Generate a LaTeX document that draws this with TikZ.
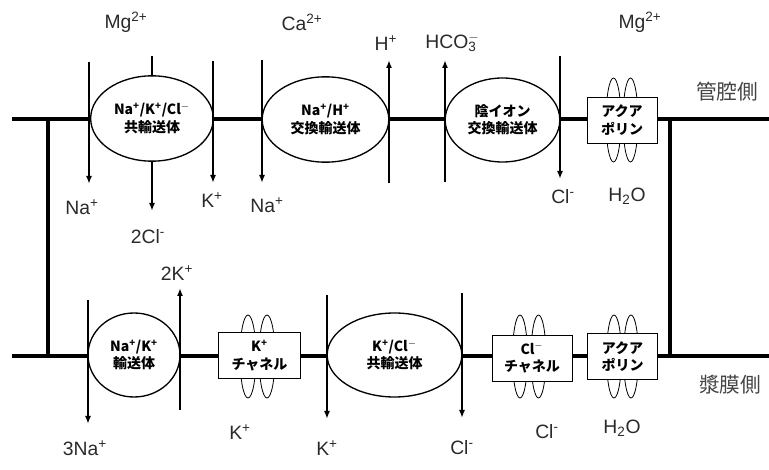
\documentclass[tikz,border=0pt]{standalone}
\usepackage{fontspec}
\setmainfont{Liberation Sans}
\newfontfamily\jp{Noto Sans CJK JP}
\usetikzlibrary{shapes.geometric, arrows.meta, positioning}
\definecolor{ionink}{HTML}{2A2A2A}
\definecolor{sideink}{HTML}{444444}

\begin{document}
\begin{tikzpicture}[
  x=0.75pt, y=-0.75pt,
  membrane/.style={line width=2.3pt},
  carrier/.style={ellipse, draw, line width=1pt, fill=white, inner sep=0pt, align=center,
    font=\jp\bfseries\fontsize{10.5}{13}\selectfont},
  channel/.style={draw, line width=0.6pt, fill=white, inner sep=0pt, align=center,
    minimum height=34.5pt, font=\jp\bfseries\fontsize{10.5}{13}\selectfont},
  loop/.style={line width=0.6pt},
  flux/.style={line width=1.2pt, -{Latex[length=6pt,width=4.5pt]}},
  stem/.style={line width=1.2pt},
  ion/.style={text=ionink, font=\fontsize{14.5}{17}\selectfont},
  side/.style={text=sideink, font=\jp\fontsize{15.5}{18}\selectfont}
]
\useasboundingbox (0,0) rectangle (769,470);

% membranes
\coordinate (tl) at (12,119);
\coordinate (tr) at (769,119);
\coordinate (bl) at (12,356);
\coordinate (br) at (769,356);
\coordinate (tjl) at (48,119);
\coordinate (bjl) at (48,356);
\coordinate (tjr) at (670,119);
\coordinate (bjr) at (670,356);
\draw[membrane] (tl) -- (tr);
\draw[membrane] (bl) -- (br);
\draw[membrane] (tjl) -- (bjl);
\draw[membrane] (tjr) -- (bjr);

% channel loops
\foreach \x in {613.5,630.5} \draw[loop] (\x,120) ellipse (7.5 and 42);
\foreach \x in {248,267} \draw[loop] (\x,356.5) ellipse (8 and 41.5);
\foreach \x in {520,538.5} \draw[loop] (\x,356.5) ellipse (7.5 and 41.5);
\foreach \x in {614,631} \draw[loop] (\x,356.5) ellipse (7.5 and 41.5);

% carriers and channels
\node[carrier, minimum width=92pt, minimum height=64pt] (nkcc) at (152,118.5)
  {Na\textsuperscript{+}/K\textsuperscript{+}/Cl\textsuperscript{$-$}\\共輸送体};
\node[carrier, minimum width=95pt, minimum height=64pt] (nhe) at (325.5,119.5)
  {Na\textsuperscript{+}/H\textsuperscript{+}\\交換輸送体};
\node[carrier, minimum width=86pt, minimum height=63pt] (ae) at (502.5,120)
  {陰イオン\\交換輸送体};
\node[channel, minimum width=52.5pt] (aqpt) at (622,120) {アクア\\ポリン};
\node[carrier, minimum width=69pt, minimum height=63pt] (nka) at (134,355)
  {Na\textsuperscript{+}/K\textsuperscript{+}\\輸送体};
\node[channel, minimum width=61pt, minimum height=34pt] (kch) at (259.5,355.5)
  {K\textsuperscript{+}\\チャネル};
\node[carrier, minimum width=101pt, minimum height=63pt] (kcc) at (394.5,355)
  {K\textsuperscript{+}/Cl\textsuperscript{$-$}\\共輸送体};
\node[channel, minimum width=60pt] (clch) at (532,358) {Cl\textsuperscript{$-$}\\チャネル};
\node[channel, minimum width=53pt] (aqpb) at (622.5,356.5) {アクア\\ポリン};

% ion labels
\node[ion] (mgl) at (126,22) {Mg\textsuperscript{2+}};
\node[ion] (cal) at (302,22) {Ca\textsuperscript{2+}};
\node[ion] (hl) at (386,43) {H\textsuperscript{+}};
\node[ion] (hcol) at (451,43) {HCO\rlap{\textsuperscript{$-$}}\textsubscript{3}};
\node[ion] (mgr) at (640,22) {Mg\textsuperscript{2+}};
\node[ion] (nal) at (82,207) {Na\textsuperscript{+}};
\node[ion] (cll) at (148,237) {2Cl\textsuperscript{-}};
\node[ion] (kl) at (212,200) {K\textsuperscript{+}};
\node[ion] (nar) at (267,205) {Na\textsuperscript{+}};
\node[ion] (clt) at (563,197) {Cl\textsuperscript{-}};
\node[ion] (h2ot) at (627,196) {H\textsubscript{2}O};
\node[ion] (k2l) at (177,273) {2K\textsuperscript{+}};
\node[ion] (na3l) at (85,448) {3Na\textsuperscript{+}};
\node[ion] (kchl) at (240,432) {K\textsuperscript{+}};
\node[ion] (kccl) at (327,448) {K\textsuperscript{+}};
\node[ion] (kcccl) at (462,448) {Cl\textsuperscript{-}};
\node[ion] (clchl) at (547,432) {Cl\textsuperscript{-}};
\node[ion] (h2ob) at (622,428) {H\textsubscript{2}O};
\node[side] (lumen) at (727,92) {管腔側};
\node[side] (serosa) at (730,385) {漿膜側};

% fluxes
\coordinate (a1s) at (89,62);   \coordinate (a1e) at (89,184);
\coordinate (a2s) at (152,56);  \coordinate (a2e) at (152,211);
\coordinate (a3s) at (213,61);  \coordinate (a3e) at (213,183);
\coordinate (a4s) at (262,60);  \coordinate (a4e) at (262,183);
\coordinate (a5s) at (389,183); \coordinate (a5e) at (389,60);
\coordinate (a6s) at (445,182); \coordinate (a6e) at (445,60);
\coordinate (a7s) at (560,56);  \coordinate (a7e) at (560,179);
\draw[flux] (a1s) -- (a1e);
\draw[stem] (a2s) -- (nkcc.north);
\draw[flux] (nkcc.south) -- (a2e);
\draw[flux] (a3s) -- (a3e);
\draw[flux] (a4s) -- (a4e);
\draw[flux] (a5s) -- (a5e);
\draw[flux] (a6s) -- (a6e);
\draw[flux] (a7s) -- (a7e);

\coordinate (b1s) at (88,300);  \coordinate (b1e) at (88,424);
\coordinate (b2s) at (180,410); \coordinate (b2e) at (180,288);
\coordinate (b3s) at (327,295); \coordinate (b3e) at (327,419);
\coordinate (b4s) at (462,293); \coordinate (b4e) at (462,418);
\draw[flux] (b1s) -- (b1e);
\draw[flux] (b2s) -- (b2e);
\draw[flux] (b3s) -- (b3e);
\draw[flux] (b4s) -- (b4e);
\end{tikzpicture}
\end{document}
